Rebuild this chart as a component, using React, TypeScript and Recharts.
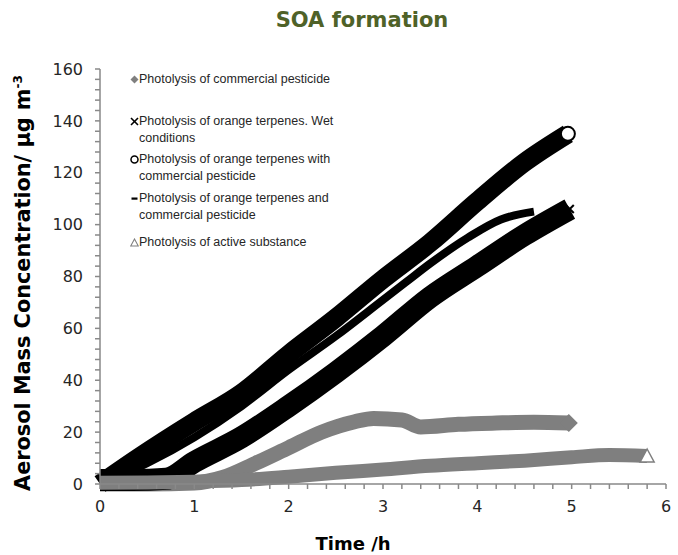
import React from 'react';
import { LineChart, Line, XAxis, YAxis } from 'recharts';

// time (h) / aerosol mass (µg m-3)
const pesticideT = [0, 0.5, 1, 1.3, 1.65, 2, 2.35, 2.7, 2.9, 3.2, 3.4, 3.8, 4.2, 4.6, 4.97];
const pesticideV = [0, 0, 0.4, 2.5, 8, 14, 20, 24, 25.3, 24.7, 22, 23, 23.5, 23.8, 23.5];

const wetT = [0, 0.35, 0.7, 1, 1.5, 2, 2.5, 3, 3.5, 4, 4.5, 4.98];
const wetV = [1.5, 1.5, 2, 8.5, 18, 30, 43, 57, 72, 84, 96, 106];

const withPestT = [0, 0.4, 1, 1.5, 2, 2.5, 3, 3.5, 4, 4.5, 4.96];
const withPestV = [0, 10, 24, 35, 50, 64, 79, 93, 109, 124, 135];

const andPestT = [0, 0.5, 1, 1.5, 2, 2.5, 3, 3.25, 3.5, 3.9, 4.25, 4.6];
const andPestV = [0, 8, 18, 30, 44, 57, 71, 78, 85, 95, 102, 105];

const activeT = [0, 0.5, 1, 1.5, 2, 2.5, 3, 3.5, 4, 4.5, 5, 5.4, 5.8];
const activeV = [0.5, 0.6, 0.9, 1.5, 2.8, 4.3, 5.6, 7, 8, 9, 10.3, 11.2, 10.8];

const seriesNames = [
  'Photolysis of commercial pesticide',
  'Photolysis of orange terpenes. Wet conditions',
  'Photolysis of orange terpenes with commercial pesticide',
  'Photolysis of orange terpenes and commercial pesticide',
  'Photolysis of active substance',
];

const xMajor = [0, 1, 2, 3, 4, 5, 6];
const yMajor = [0, 20, 40, 60, 80, 100, 120, 140, 160];

const xTicks = Array.from({ length: 31 }, (_, k) => k / 5);
const yTicks = Array.from({ length: 41 }, (_, k) => k * 4);

const toRows = (t: number[], v: number[]) => t.map((x, i) => ({ t: x, v: v[i] }));

const GRAY = '#7f7f7f';
const AXIS = '#898989';

const endDot = (len: number, kind: string) => (props: any) => {
  const { cx, cy, index } = props;
  if (index !== len - 1) return <g key={`d${index}`} />;
  if (kind === 'diamond')
    return (
      <polygon key="end" points={`${cx},${cy - 9} ${cx + 9},${cy} ${cx},${cy + 9} ${cx - 9},${cy}`} fill={GRAY} />
    );
  if (kind === 'x')
    return (
      <g key="end" stroke="#000" strokeWidth={2}>
        <line x1={cx - 4} y1={cy - 4} x2={cx + 4} y2={cy + 4} />
        <line x1={cx - 4} y1={cy + 4} x2={cx + 4} y2={cy - 4} />
      </g>
    );
  if (kind === 'circle') return <circle key="end" cx={cx} cy={cy} r={7} fill="#fff" stroke="#000" strokeWidth={2} />;
  if (kind === 'triangle')
    return (
      <polygon
        key="end"
        points={`${cx},${cy - 7} ${cx + 7},${cy + 6} ${cx - 7},${cy + 6}`}
        fill="#fff"
        stroke={GRAY}
        strokeWidth={1.5}
      />
    );
  return <g key="end" />;
};

const Marker = ({ kind }: { kind: string }) => (
  <svg width={9} height={9} style={{ position: 'absolute', left: -9, top: 4 }}>
    {kind === 'diamond' && <polygon points="4.5,0.5 8.5,4.5 4.5,8.5 0.5,4.5" fill={GRAY} />}
    {kind === 'x' && (
      <g stroke="#000" strokeWidth={1.6}>
        <line x1={1} y1={1} x2={8} y2={8} />
        <line x1={1} y1={8} x2={8} y2={1} />
      </g>
    )}
    {kind === 'circle' && <circle cx={4.5} cy={4.5} r={3.5} fill="#fff" stroke="#000" strokeWidth={1.5} />}
    {kind === 'dash' && <rect x={1.5} y={3.5} width={6} height={2.2} fill="#000" />}
    {kind === 'triangle' && <polygon points="4.5,1 8.3,8 0.7,8" fill="#fff" stroke={GRAY} strokeWidth={1.1} />}
  </svg>
);

const legendKinds = ['diamond', 'x', 'circle', 'dash', 'triangle'];
const legendTops = [71, 113, 151, 190, 234];

const ChartLegend = () => (
  <>
    {seriesNames.map((name, i) => (
      <div
        key={name}
        style={{
          position: 'absolute',
          left: 139,
          top: legendTops[i],
          width: 200,
          fontFamily: '"Liberation Sans", Arial, sans-serif',
          fontSize: 12.5,
          lineHeight: '17px',
          color: '#262626',
        }}
      >
        <Marker kind={legendKinds[i]} />
        {name}
      </div>
    ))}
  </>
);

export default function App() {
  const tickStyle = { fill: '#262626', fontSize: 16, fontFamily: '"DejaVu Sans", sans-serif' };
  return (
    <div style={{ position: 'absolute', left: 0, top: 0, width: 678, height: 555, background: '#fff' }}>
      <div
        style={{
          position: 'absolute',
          left: 0,
          width: 678,
          top: 8,
          textAlign: 'center',
          paddingLeft: 46,
          boxSizing: 'border-box',
          fontFamily: '"DejaVu Sans", sans-serif',
          fontWeight: 'bold',
          fontSize: 21,
          color: '#4f6228',
        }}
      >
        SOA formation
      </div>
      <LineChart width={678} height={555} margin={{ top: 69, right: 12, bottom: 31, left: 40 }}>
        <XAxis
          type="number"
          dataKey="t"
          domain={[0, 6]}
          ticks={xTicks}
          interval={0}
          tickSize={5}
          tickMargin={12}
          height={40}
          stroke={AXIS}
          strokeWidth={1.5}
          tick={tickStyle}
          tickFormatter={(v: number) => (xMajor.includes(v) ? String(v) : '')}
        />
        <YAxis
          type="number"
          domain={[0, 160]}
          ticks={yTicks}
          interval={0}
          tickSize={5}
          tickMargin={12}
          width={60}
          stroke={AXIS}
          strokeWidth={1.5}
          tick={tickStyle}
          tickFormatter={(v: number) => (yMajor.includes(v) ? String(v) : '')}
        />
        <Line
          data={toRows(pesticideT, pesticideV)}
          dataKey="v"
          name={seriesNames[0]}
          type="monotone"
          stroke={GRAY}
          strokeWidth={15}
          strokeLinecap="butt"
          strokeLinejoin="round"
          dot={endDot(pesticideT.length, 'diamond')}
          activeDot={false}
          isAnimationActive={false}
        />
        <Line
          data={toRows(wetT, wetV)}
          dataKey="v"
          name={seriesNames[1]}
          type="monotone"
          stroke="#000"
          strokeWidth={22}
          strokeLinecap="butt"
          strokeLinejoin="round"
          dot={endDot(wetT.length, 'x')}
          activeDot={false}
          isAnimationActive={false}
        />
        <Line
          data={toRows(withPestT, withPestV)}
          dataKey="v"
          name={seriesNames[2]}
          type="monotone"
          stroke="#000"
          strokeWidth={19}
          strokeLinecap="butt"
          strokeLinejoin="round"
          dot={endDot(withPestT.length, 'circle')}
          activeDot={false}
          isAnimationActive={false}
        />
        <Line
          data={toRows(andPestT, andPestV)}
          dataKey="v"
          name={seriesNames[3]}
          type="monotone"
          stroke="#000"
          strokeWidth={8}
          strokeLinecap="butt"
          strokeLinejoin="round"
          dot={false}
          activeDot={false}
          isAnimationActive={false}
        />
        <Line
          data={toRows(activeT, activeV)}
          dataKey="v"
          name={seriesNames[4]}
          type="monotone"
          stroke={GRAY}
          strokeWidth={14}
          strokeLinecap="butt"
          strokeLinejoin="round"
          dot={endDot(activeT.length, 'triangle')}
          activeDot={false}
          isAnimationActive={false}
        />
      </LineChart>
      <ChartLegend />
      <div
        style={{
          position: 'absolute',
          left: 23,
          top: 283,
          transform: 'translate(-50%, -50%) rotate(-90deg)',
          whiteSpace: 'nowrap',
          fontFamily: '"DejaVu Sans", sans-serif',
          fontWeight: 'bold',
          fontSize: 20.8,
          color: '#000',
        }}
      >
        Aerosol Mass Concentration/ µg m<sup style={{ fontSize: 12 }}>-3</sup>
      </div>
      <div
        style={{
          position: 'absolute',
          left: 353,
          top: 543,
          transform: 'translate(-50%, -50%)',
          whiteSpace: 'nowrap',
          fontFamily: '"DejaVu Sans", sans-serif',
          fontWeight: 'bold',
          fontSize: 18,
          color: '#000',
        }}
      >
        Time /h
      </div>
    </div>
  );
}
